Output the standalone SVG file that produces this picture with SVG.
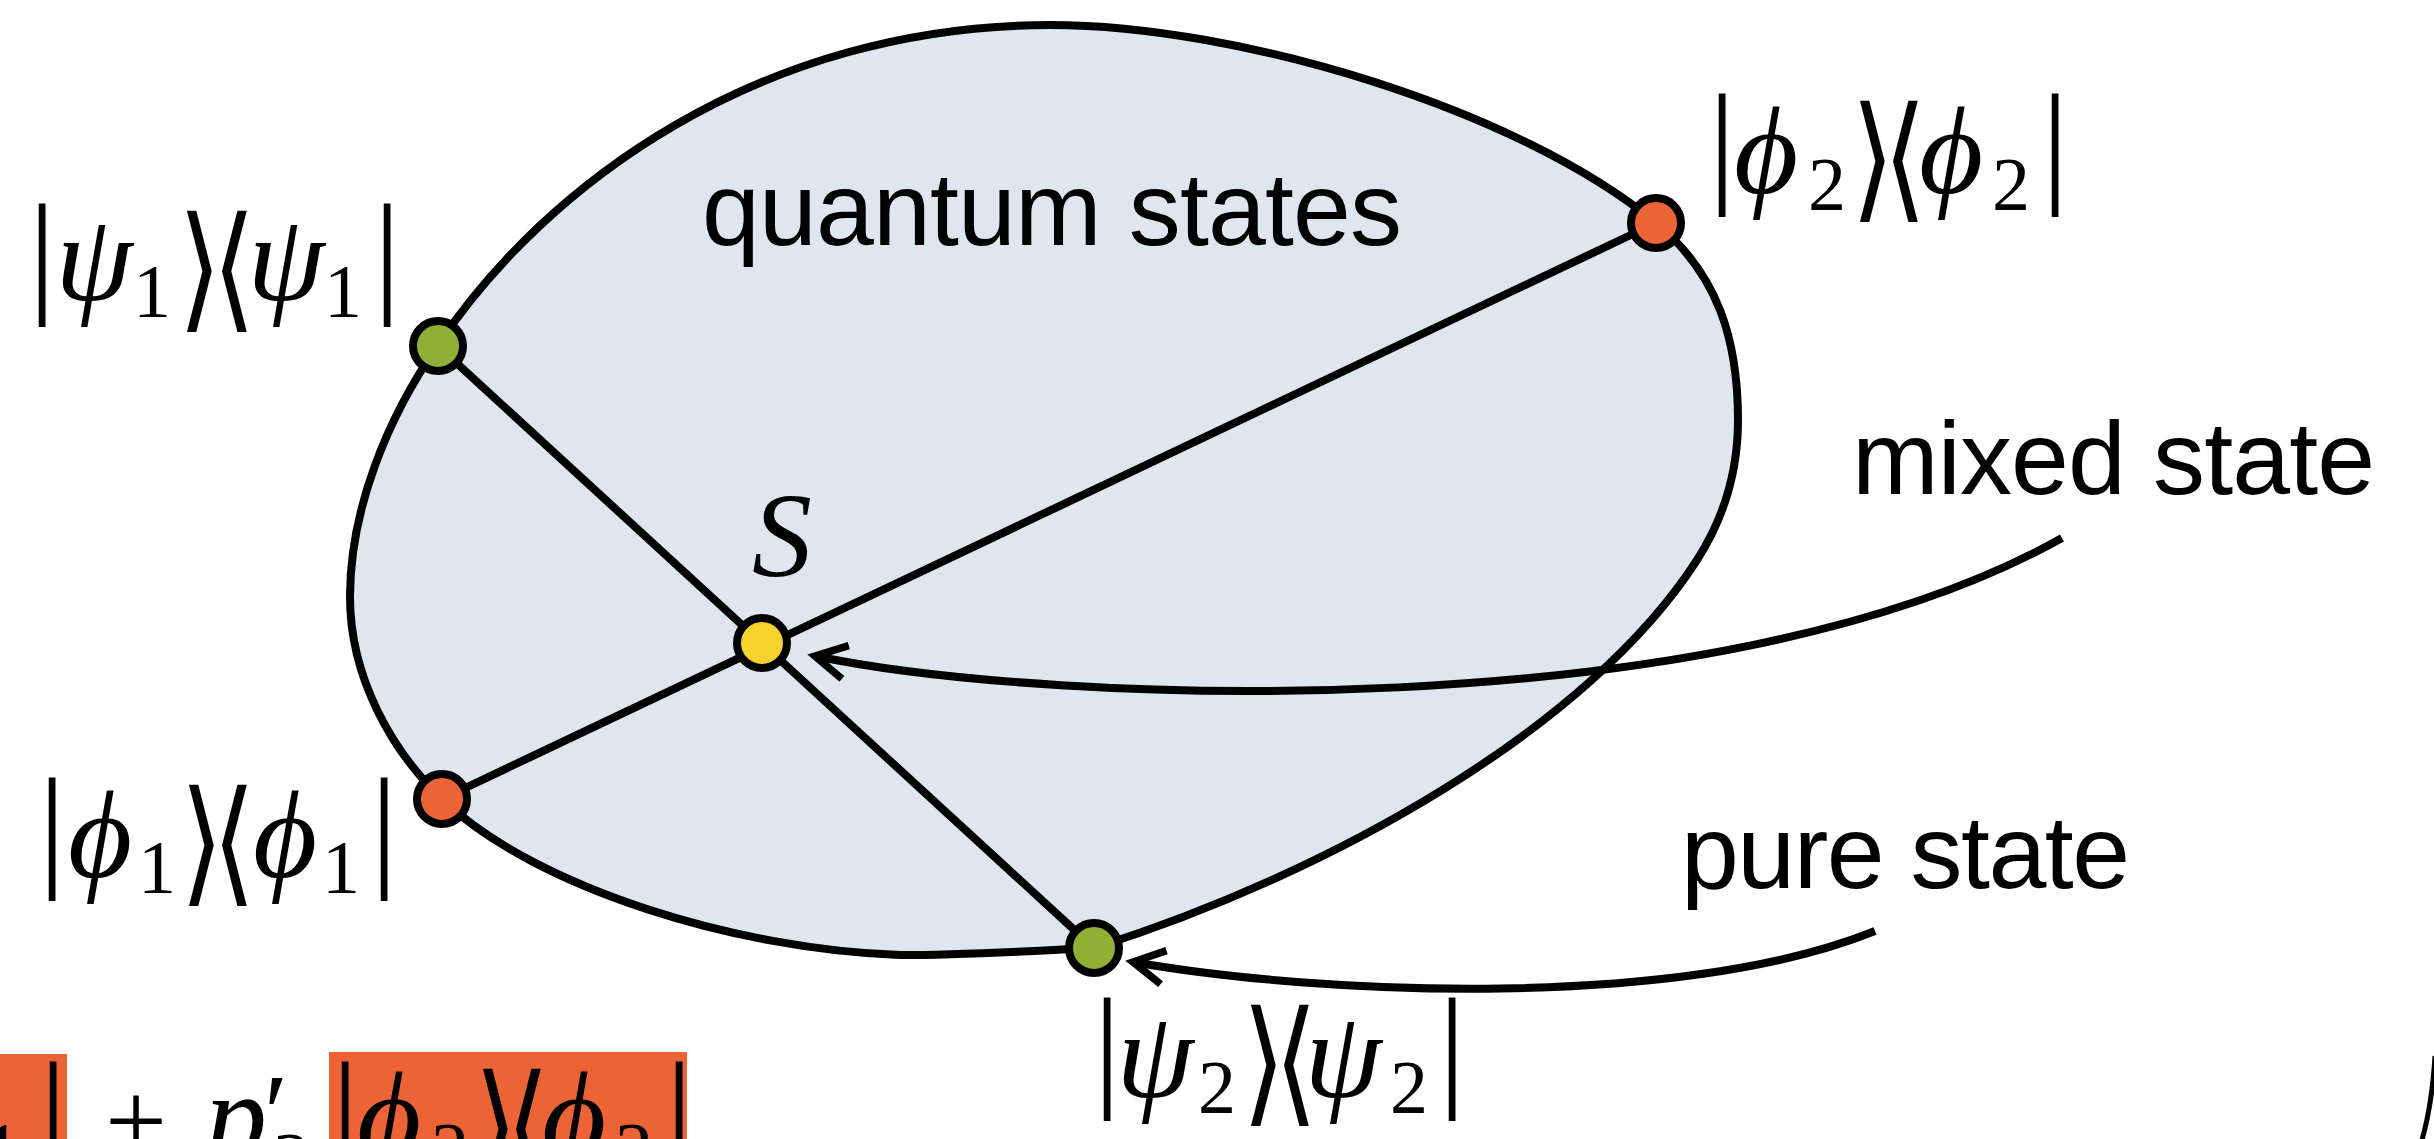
<svg xmlns="http://www.w3.org/2000/svg" width="2434" height="1139" viewBox="0 0 2434 1139">
<style>
.lbl{font-family:"Liberation Sans",Arial,sans-serif;font-size:104px;fill:#000}
.m{font-family:"Liberation Serif","DejaVu Serif",serif;fill:#000;text-anchor:middle}
.bar{font-size:136px;font-style:normal}
.gi{font-size:124px;font-style:italic}
.sub{font-size:76px;font-style:normal}
.br{font-family:"DejaVu Sans",sans-serif;font-weight:200;font-size:80px;fill:#000;text-anchor:middle}
.node{stroke:#000;stroke-width:8}
.g{fill:#8fb035}.o{fill:#ec6436}.y{fill:#f6d22c}
.edge{stroke:#000;stroke-width:8;fill:none}
</style>
<defs>
<marker id="ah" markerUnits="userSpaceOnUse" orient="auto" viewBox="-45 -30 55 60" refX="0" refY="0" markerWidth="55" markerHeight="60" overflow="visible">
<path d="M -31,-17 L 0,0 L -31,17" fill="none" stroke="#000" stroke-width="7.5"/>
</marker>
</defs>
<rect width="2434" height="1139" fill="#fff"/>
<g id="region">
<path d="M 438,345 C 545,185 760,25 1050,25 C 1240,25 1520,110 1656,223 C 1718,274 1738,340 1738,420 C 1738,470 1724,518 1697,560 C 1589,728 1331.5,873 1094,948 C 1029,951 965,955 900,955 C 740,950 536,889 442,799 C 391.6,750.7 350,677 350,597 C 350,510 386.7,418.8 438,345 Z" fill="#dfe6f0" stroke="#000" stroke-width="8"/>
<text class="lbl" x="702" y="245" textLength="700">quantum states</text>
</g>
<g id="connectors">
<line class="edge" x1="438" y1="346" x2="1094" y2="948"/>
<line class="edge" x1="442" y1="799" x2="1656" y2="223"/>
<path class="edge" d="M 2062,538 C 1720,730 1050,705 815,656" marker-end="url(#ah)"/>
<path class="edge" d="M 1875,931 C 1680,1010 1320,995 1133,962" marker-end="url(#ah)"/>
</g>
<g id="psi1">
<circle class="node g" cx="438" cy="346" r="25"/>
<text class="m"><tspan class="bar" x="42" y="298">|</tspan><tspan class="gi" x="94" y="300">ψ</tspan><tspan class="sub" x="152" y="317">1</tspan><tspan class="gi" x="286" y="300">ψ</tspan><tspan class="sub" x="343" y="317">1</tspan><tspan class="bar" x="387" y="298">|</tspan></text>
<text class="br" transform="translate(0,314) scale(1.4,1.7)"><tspan x="142.9" y="0">⟩</tspan><tspan x="167.1" y="0">⟨</tspan></text>
</g>
<g id="phi2">
<circle class="node o" cx="1656" cy="223" r="25"/>
<text class="m"><tspan class="bar" x="1722" y="188">|</tspan><tspan class="gi" x="1766" y="193">ϕ</tspan><tspan class="sub" x="1827" y="210">2</tspan><tspan class="gi" x="1951" y="193">ϕ</tspan><tspan class="sub" x="2011" y="210">2</tspan><tspan class="bar" x="2055" y="188">|</tspan></text>
<text class="br" transform="translate(0,204) scale(1.4,1.7)"><tspan x="1337.9" y="0">⟩</tspan><tspan x="1360.7" y="0">⟨</tspan></text>
</g>
<g id="phi1">
<circle class="node o" cx="442" cy="799" r="25"/>
<text class="m"><tspan class="bar" x="52" y="872">|</tspan><tspan class="gi" x="100" y="877">ϕ</tspan><tspan class="sub" x="157" y="893">1</tspan><tspan class="gi" x="285" y="877">ϕ</tspan><tspan class="sub" x="341" y="893">1</tspan><tspan class="bar" x="384" y="872">|</tspan></text>
<text class="br" transform="translate(0,888) scale(1.4,1.7)"><tspan x="144.3" y="0">⟩</tspan><tspan x="167.1" y="0">⟨</tspan></text>
</g>
<g id="psi2">
<circle class="node g" cx="1094" cy="948" r="25"/>
<text class="m"><tspan class="bar" x="1107" y="1092">|</tspan><tspan class="gi" x="1155" y="1097">ψ</tspan><tspan class="sub" x="1217" y="1113">2</tspan><tspan class="gi" x="1343" y="1097">ψ</tspan><tspan class="sub" x="1409" y="1113">2</tspan><tspan class="bar" x="1452" y="1092">|</tspan></text>
<text class="br" transform="translate(0,1108) scale(1.4,1.7)"><tspan x="902.9" y="0">⟩</tspan><tspan x="925.7" y="0">⟨</tspan></text>
</g>
<g id="S">
<circle class="node y" cx="762" cy="643" r="25"/>
<text class="m" style="font-style:italic;font-size:120px" x="782" y="576">S</text>
</g>
<g id="mixed">
<text class="lbl" x="1852" y="494" textLength="523">mixed state</text>
</g>
<g id="pure">
<text class="lbl" x="1681" y="888" textLength="449">pure state</text>
</g>
<g id="formula">
<rect x="-10" y="1054" width="77" height="100" fill="#ec6436"/>
<rect x="329" y="1052" width="358" height="100" fill="#ec6436"/>
<text class="m"><tspan class="sub" x="2" y="1175">1</tspan><tspan class="bar" x="53" y="1156">|</tspan><tspan style="font-size:110px" x="136" y="1158">+</tspan><tspan class="gi" x="236" y="1158">p</tspan><tspan style="font-size:110px" x="276" y="1150">′</tspan><tspan class="sub" x="292" y="1185">2</tspan><tspan class="bar" x="345" y="1156">|</tspan><tspan class="gi" x="389" y="1158">ϕ</tspan><tspan class="sub" x="450" y="1175">2</tspan><tspan class="gi" x="574" y="1158">ϕ</tspan><tspan class="sub" x="634" y="1175">2</tspan><tspan class="bar" x="679" y="1156">|</tspan></text>
<text class="br" transform="translate(0,1172) scale(1.4,1.7)"><tspan x="354.3" y="0">⟩</tspan><tspan x="377.1" y="0">⟨</tspan></text>
</g>
<path d="M 2435,1056 Q 2432,1105 2422,1140" fill="none" stroke="#000" stroke-width="5"/>
</svg>
